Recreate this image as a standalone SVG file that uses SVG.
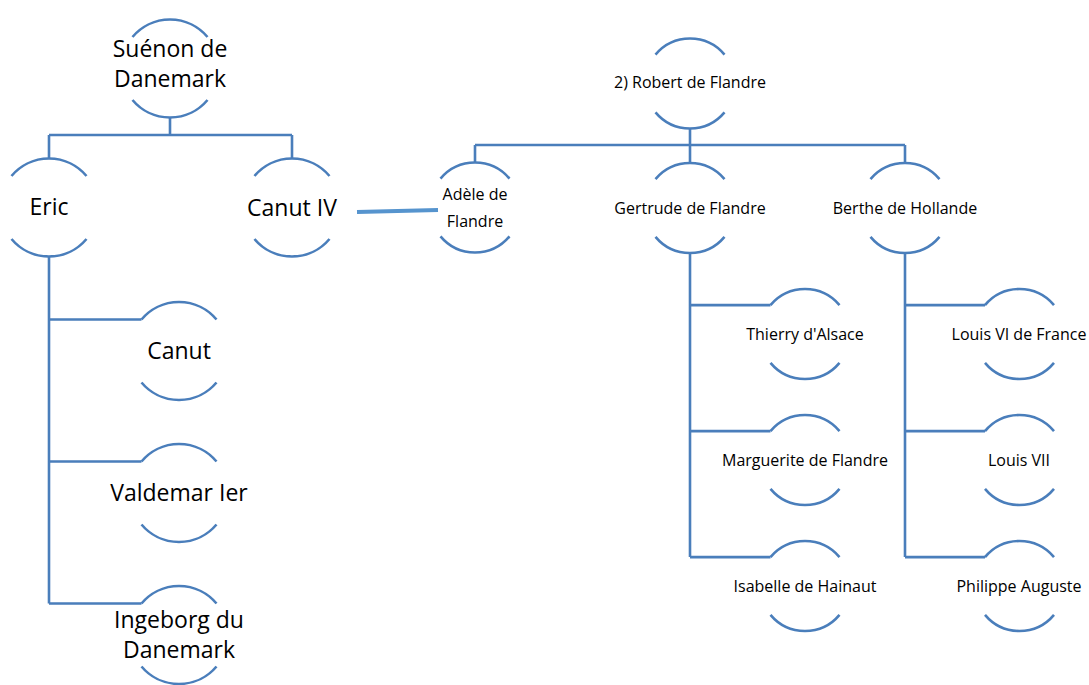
<svg xmlns="http://www.w3.org/2000/svg" xmlns:xlink="http://www.w3.org/1999/xlink" width="1089" height="685" viewBox="0 0 1089 685">
<style>
.arc{fill:none;stroke:#4A7EBB;stroke-width:2.6}
.ln{fill:none;stroke:#4A7EBB;stroke-width:2.6}
.rel{fill:none;stroke:#5694CE;stroke-width:4}
.tl{font-family:"Open Sans","Noto Sans",sans-serif;font-size:23px;fill:#000;text-anchor:middle}
.ts{font-family:"Open Sans","Noto Sans",sans-serif;font-size:16px;fill:#000;text-anchor:middle}
</style>
<defs>
<g id="cL"><path class="arc" d="M-37.5,-31.5 A49,49 0 0 1 37.5,-31.5"/><path class="arc" d="M-37.5,31.5 A49,49 0 0 0 37.5,31.5"/></g>
<g id="cS"><path class="arc" d="M-34.5,-28.9 A45,45 0 0 1 34.5,-28.9"/><path class="arc" d="M-34.5,28.9 A45,45 0 0 0 34.5,28.9"/></g>
</defs>
<rect width="1089" height="685" fill="#fff"/>
<g id="connectors">
<path class="ln" d="M170,117.5V135M49,135H292M49,135V158.5M292,135V158.5"/>
<path class="ln" d="M49,256.5V603.5M49,319.5H141.5M49,461.5H141.5M49,603.5H141.5"/>
<path class="ln" d="M690,128.5V145M475,145H905M475,145V163M690,145V163M905,145V163"/>
<path class="ln" d="M690,253V557.1M690,305.1H770.5M690,431.1H770.5M690,557.1H770.5"/>
<path class="ln" d="M905,253V557.1M905,305.1H985M905,431.1H985M905,557.1H985"/>
<path class="rel" d="M357,212L438,210"/>
</g>
<g id="suenon"><use xlink:href="#cL" x="170" y="68.5"/><text class="tl" x="170" y="57.3">Suénon de</text><text class="tl" x="170" y="86.7">Danemark</text></g>
<g id="eric"><use xlink:href="#cL" x="49" y="207.5"/><text class="tl" x="49" y="215">Eric</text></g>
<g id="canut4"><use xlink:href="#cL" x="292" y="207.5"/><text class="tl" x="292" y="215.5">Canut IV</text></g>
<g id="canut"><use xlink:href="#cL" x="179" y="351"/><text class="tl" x="179" y="359">Canut</text></g>
<g id="valdemar"><use xlink:href="#cL" x="179" y="493"/><text class="tl" x="179" y="501">Valdemar Ier</text></g>
<g id="ingeborg"><use xlink:href="#cL" x="179" y="635"/><text class="tl" x="179" y="628.3">Ingeborg du</text><text class="tl" x="179" y="658.3">Danemark</text></g>
<g id="robert"><use xlink:href="#cS" x="690" y="83.5"/><text class="ts" x="690" y="88.3">2) Robert de Flandre</text></g>
<g id="adele"><use xlink:href="#cS" x="475" y="207.5"/><text class="ts" x="475" y="200">Adèle de</text><text class="ts" x="475" y="227.3">Flandre</text></g>
<g id="gertrude"><use xlink:href="#cS" x="690" y="208"/><text class="ts" x="690" y="214">Gertrude de Flandre</text></g>
<g id="berthe"><use xlink:href="#cS" x="905" y="208"/><text class="ts" x="905" y="214">Berthe de Hollande</text></g>
<g id="thierry"><use xlink:href="#cS" x="805" y="334"/><text class="ts" x="805" y="340">Thierry d'Alsace</text></g>
<g id="marguerite"><use xlink:href="#cS" x="805" y="460"/><text class="ts" x="805" y="466">Marguerite de Flandre</text></g>
<g id="isabelle"><use xlink:href="#cS" x="805" y="586"/><text class="ts" x="805" y="592">Isabelle de Hainaut</text></g>
<g id="louis6"><use xlink:href="#cS" x="1019.5" y="334"/><text class="ts" x="1019" y="340">Louis VI de France</text></g>
<g id="louis7"><use xlink:href="#cS" x="1019.5" y="460"/><text class="ts" x="1019" y="466">Louis VII</text></g>
<g id="philippe"><use xlink:href="#cS" x="1019.5" y="586"/><text class="ts" x="1019" y="592">Philippe Auguste</text></g>
</svg>
